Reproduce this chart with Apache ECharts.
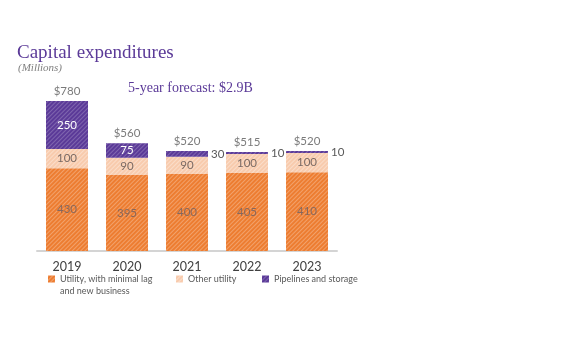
<!DOCTYPE html>
<html>
<head>
<meta charset="utf-8">
<script src="https://cdn.jsdelivr.net/npm/echarts@6/dist/echarts.min.js"></script>
<style>
  html, body { margin: 0; padding: 0; background: #fff; }
  #chart { width: 575px; height: 340px; }
</style>
</head>
<body>
<div id="chart"></div>
<script>
// Capital expenditures by segment, in millions
const years = ['2019', '2020', '2021', '2022', '2023'];
const utility = [430, 395, 400, 405, 410];
const otherUtility = [100, 90, 90, 100, 100];
const pipelines = [250, 75, 30, 10, 10];
const totals = years.map((_, i) => utility[i] + otherUtility[i] + pipelines[i]);

const seriesNames = ['Utility, with minimal lag and new business', 'Other utility', 'Pipelines and storage'];
const purple = '#5b3a98';
const grayText = '#595959';
const sans = 'Lato';

// Fine diagonal hatching laid over each segment's fill
function hatch(alpha) {
  return {
    symbol: 'rect',
    symbolSize: 1,
    color: 'rgba(255,255,255,' + alpha + ')',
    dashArrayX: [1, 0],
    dashArrayY: [1, 2],
    rotation: -Math.PI / 4
  };
}

// Small pipeline segments get their label beside the bar instead of inside
const pipelineData = pipelines.map(v => v >= 50
  ? { value: v, label: { show: true, position: 'inside', color: '#ffffff' } }
  : { value: v, label: { show: true, position: 'right', color: grayText, distance: 3 } });

const legendBase = {
  padding: 0, itemWidth: 7, itemHeight: 7, icon: 'rect', itemGap: 0,
  textStyle: { fontSize: 9, color: grayText, fontFamily: sans, lineHeight: 12 }
};

const chart = echarts.init(document.getElementById('chart'), null, { renderer: 'canvas' });
chart.setOption({
  animation: false,
  title: [
    {
      text: 'Capital expenditures', padding: 0,
      left: 17, top: 44,
      textStyle: { fontFamily: 'Liberation Serif', fontSize: 19, fontWeight: 'normal', color: purple }
    },
    {
      text: '(Millions)', padding: 0,
      left: 18, top: 63,
      textStyle: { fontFamily: 'Liberation Serif', fontStyle: 'italic', fontSize: 11, fontWeight: 'normal', color: '#7f7f7f' }
    },
    {
      text: '5-year forecast: $2.9B', padding: 0,
      left: 128, top: 81,
      textStyle: { fontFamily: 'Liberation Serif', fontSize: 14, fontWeight: 'normal', color: purple }
    }
  ],
  legend: [
    Object.assign({}, legendBase, {
      data: [seriesNames[0]], left: 48, top: 261,
      // blank first line keeps the wrapped name hanging below the swatch
      formatter: () => ' \nUtility, with minimal lag\nand new business'
    }),
    Object.assign({}, legendBase, { data: [seriesNames[1]], left: 176, top: 273 }),
    Object.assign({}, legendBase, { data: [seriesNames[2]], left: 262, top: 273 })
  ],
  grid: { left: 37, right: 238, top: 101, bottom: 89 },
  xAxis: {
    type: 'category',
    data: years,
    axisTick: { show: false },
    axisLine: { lineStyle: { color: '#d4d4d4', width: 2 } },
    axisLabel: { color: '#404040', fontSize: 12.5, margin: 9, fontFamily: sans }
  },
  yAxis: {
    type: 'value', min: 0, max: 780, show: false,
    splitLine: { show: false }
  },
  series: [
    {
      name: seriesNames[0], type: 'bar', stack: 'capex', barWidth: 42,
      data: utility,
      itemStyle: { color: '#ed7d31', decal: hatch(0.28) },
      label: { show: true, position: 'inside', color: '#86685e', fontSize: 11.5, fontFamily: sans }
    },
    {
      name: seriesNames[1], type: 'bar', stack: 'capex', barWidth: 42,
      data: otherUtility,
      itemStyle: { color: '#f8cbad', decal: hatch(0.35) },
      label: { show: true, position: 'inside', color: '#7a6a64', fontSize: 11.5, fontFamily: sans }
    },
    {
      name: seriesNames[2], type: 'bar', stack: 'capex', barWidth: 42,
      data: pipelineData,
      itemStyle: { color: purple, decal: hatch(0.22) },
      label: { fontSize: 11.5, fontFamily: sans }
    },
    {
      name: 'Total', type: 'scatter', symbolSize: 0,
      data: totals,
      label: {
        show: true, position: 'top', distance: 4,
        formatter: p => '$' + p.value,
        color: grayText, fontSize: 11.5, fontFamily: sans
      },
      tooltip: { show: false }
    }
  ]
});
</script>
</body>
</html>
